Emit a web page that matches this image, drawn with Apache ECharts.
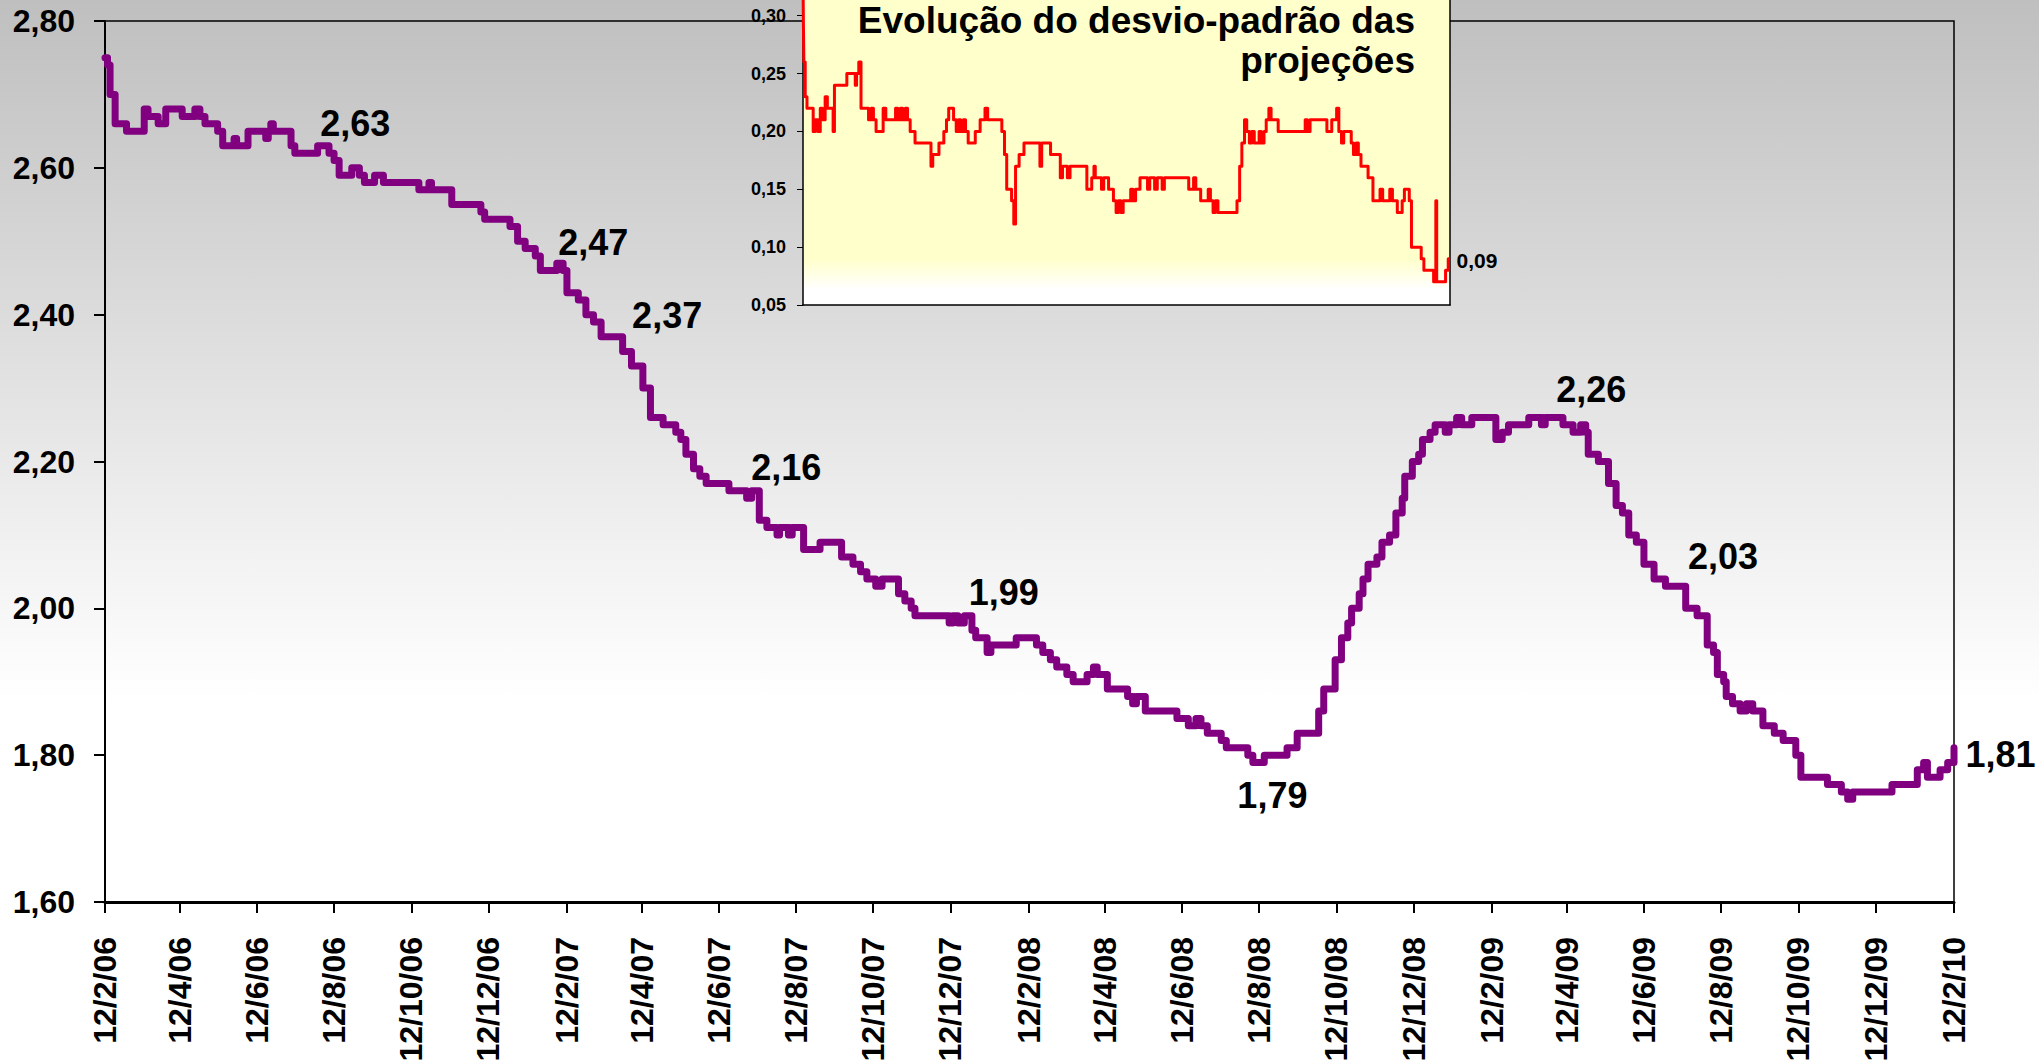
<!DOCTYPE html>
<html lang="pt-BR">
<head>
<meta charset="utf-8">
<title>Projeções</title>
<script src="https://cdn.jsdelivr.net/npm/echarts@6.0.0/dist/echarts.min.js"></script>
<style>
  html, body { margin: 0; padding: 0; }
  body { background: linear-gradient(to bottom, #bfbfbf 0px, #ffffff 700px, #ffffff 100%); }
  #chart { width: 2039px; height: 1063px; }
</style>
</head>
<body>
<div id="chart"></div>
<script>
// eixo de datas: dias contados a partir de 12/2/06
const startDate = '2006-02-12';
const endDate = '2010-02-12';
const tickDates = [
  '2006-02-12', '2006-04-12', '2006-06-12', '2006-08-12', '2006-10-12', '2006-12-12',
  '2007-02-12', '2007-04-12', '2007-06-12', '2007-08-12', '2007-10-12', '2007-12-12',
  '2008-02-12', '2008-04-12', '2008-06-12', '2008-08-12', '2008-10-12', '2008-12-12',
  '2009-02-12', '2009-04-12', '2009-06-12', '2009-08-12', '2009-10-12', '2009-12-12',
  '2010-02-12'
];
const devTicks = [0.05, 0.10, 0.15, 0.20, 0.25, 0.30];

// mediana das projeções: [dia, valor] em cada mudança de patamar
const mainPoints = [
  [0, 2.75], [2, 2.74], [4, 2.70], [8, 2.66], [17, 2.65], [31, 2.68], [34, 2.67], [42, 2.66],
  [48, 2.68], [61, 2.67], [71, 2.68], [75, 2.67], [79, 2.66], [89, 2.65], [93, 2.63], [102, 2.64],
  [104, 2.63], [113, 2.65], [127, 2.64], [129, 2.65], [131, 2.66], [133, 2.65], [147, 2.63], [150, 2.62],
  [168, 2.63], [177, 2.62], [181, 2.61], [185, 2.59], [195, 2.60], [201, 2.59], [205, 2.58], [213, 2.59],
  [220, 2.58], [248, 2.57], [256, 2.58], [258, 2.57], [274, 2.55], [297, 2.54], [300, 2.53], [320, 2.52],
  [326, 2.50], [332, 2.49], [340, 2.48], [344, 2.46], [357, 2.47], [362, 2.46], [365, 2.43], [374, 2.42],
  [380, 2.40], [386, 2.39], [392, 2.37], [409, 2.35], [416, 2.33], [425, 2.30], [431, 2.26], [441, 2.25],
  [451, 2.24], [455, 2.23], [459, 2.21], [465, 2.19], [470, 2.18], [475, 2.17], [493, 2.16], [507, 2.15],
  [511, 2.16], [517, 2.12], [523, 2.11], [531, 2.10], [533, 2.11], [540, 2.10], [543, 2.11], [552, 2.08],
  [565, 2.09], [582, 2.07], [591, 2.06], [597, 2.05], [602, 2.04], [609, 2.03], [614, 2.04], [627, 2.02],
  [632, 2.01], [637, 2.00], [640, 1.99], [667, 1.98], [670, 1.99], [674, 1.98], [679, 1.99], [685, 1.97],
  [688, 1.96], [697, 1.94], [700, 1.95], [720, 1.96], [736, 1.95], [741, 1.94], [747, 1.93], [752, 1.92],
  [760, 1.91], [765, 1.90], [776, 1.91], [781, 1.92], [784, 1.91], [792, 1.89], [808, 1.88], [812, 1.87],
  [815, 1.88], [822, 1.86], [847, 1.85], [856, 1.84], [862, 1.85], [866, 1.84], [871, 1.83], [882, 1.82],
  [886, 1.81], [903, 1.80], [907, 1.79], [916, 1.80], [934, 1.81], [942, 1.83], [959, 1.86], [963, 1.89],
  [972, 1.93], [977, 1.96], [982, 1.98], [985, 2.00], [991, 2.02], [994, 2.04], [998, 2.06], [1005, 2.07],
  [1009, 2.09], [1015, 2.10], [1020, 2.13], [1025, 2.15], [1027, 2.18], [1033, 2.20], [1038, 2.21], [1041, 2.23],
  [1047, 2.24], [1051, 2.25], [1059, 2.24], [1062, 2.25], [1068, 2.26], [1072, 2.25], [1080, 2.26], [1099, 2.23],
  [1104, 2.24], [1109, 2.25], [1125, 2.26], [1135, 2.25], [1138, 2.26], [1152, 2.25], [1160, 2.24], [1166, 2.25],
  [1170, 2.24], [1172, 2.21], [1180, 2.20], [1188, 2.17], [1194, 2.14], [1199, 2.13], [1204, 2.10], [1210, 2.09],
  [1216, 2.06], [1224, 2.04], [1233, 2.03], [1249, 2.00], [1258, 1.99], [1266, 1.95], [1271, 1.94], [1274, 1.91],
  [1279, 1.90], [1281, 1.88], [1286, 1.87], [1292, 1.86], [1297, 1.87], [1302, 1.86], [1310, 1.84], [1319, 1.83],
  [1326, 1.82], [1336, 1.80], [1340, 1.77], [1361, 1.76], [1372, 1.75], [1377, 1.74], [1381, 1.75], [1412, 1.76],
  [1432, 1.78], [1437, 1.79], [1440, 1.77], [1450, 1.78], [1456, 1.79], [1461, 1.81]
];

// desvio-padrão das projeções (gráfico menor)
const devPoints = [
  [0, 0.33], [1, 0.29], [2, 0.26], [5, 0.23], [9, 0.22], [23, 0.20], [28, 0.21], [34, 0.20],
  [39, 0.22], [44, 0.21], [50, 0.23], [55, 0.22], [68, 0.20], [71, 0.24], [99, 0.25], [118, 0.24],
  [121, 0.25], [126, 0.26], [131, 0.22], [148, 0.21], [154, 0.22], [159, 0.21], [165, 0.20], [181, 0.22],
  [187, 0.21], [209, 0.22], [214, 0.21], [220, 0.22], [225, 0.21], [231, 0.22], [236, 0.21], [242, 0.20],
  [253, 0.19], [289, 0.17], [293, 0.18], [307, 0.19], [318, 0.20], [324, 0.21], [329, 0.22], [340, 0.21],
  [346, 0.20], [351, 0.21], [356, 0.20], [362, 0.21], [367, 0.20], [373, 0.19], [389, 0.20], [400, 0.21],
  [411, 0.22], [417, 0.21], [449, 0.20], [455, 0.18], [460, 0.15], [471, 0.14], [476, 0.12], [480, 0.17],
  [488, 0.18], [499, 0.19], [535, 0.17], [539, 0.19], [559, 0.18], [581, 0.16], [586, 0.17], [597, 0.16],
  [603, 0.17], [641, 0.15], [652, 0.16], [657, 0.17], [660, 0.16], [674, 0.15], [679, 0.16], [690, 0.15],
  [701, 0.14], [707, 0.13], [712, 0.14], [718, 0.13], [723, 0.14], [740, 0.15], [745, 0.14], [751, 0.15],
  [761, 0.16], [778, 0.15], [783, 0.16], [794, 0.15], [800, 0.16], [811, 0.15], [816, 0.16], [871, 0.15],
  [882, 0.16], [887, 0.15], [898, 0.14], [915, 0.15], [920, 0.14], [926, 0.13], [931, 0.14], [937, 0.13],
  [980, 0.14], [986, 0.17], [991, 0.19], [997, 0.21], [1002, 0.20], [1008, 0.19], [1013, 0.20], [1019, 0.19],
  [1030, 0.20], [1035, 0.19], [1041, 0.20], [1046, 0.21], [1052, 0.22], [1057, 0.21], [1073, 0.20], [1134, 0.21],
  [1139, 0.20], [1145, 0.21], [1183, 0.20], [1194, 0.21], [1205, 0.22], [1210, 0.20], [1216, 0.19], [1221, 0.20],
  [1238, 0.19], [1243, 0.18], [1249, 0.19], [1254, 0.18], [1260, 0.17], [1276, 0.16], [1287, 0.14], [1303, 0.15],
  [1309, 0.14], [1325, 0.15], [1331, 0.14], [1342, 0.13], [1353, 0.14], [1358, 0.15], [1369, 0.14], [1374, 0.10],
  [1396, 0.09], [1402, 0.08], [1424, 0.07], [1429, 0.14], [1431, 0.07], [1451, 0.08], [1457, 0.09], [1461, 0.09]
];

// pontos destacados com rótulo
const labelDays = [172, 357, 409, 511, 679, 907, 1140, 1233, 1461];
const labelValues = [2.63, 2.47, 2.37, 2.16, 1.99, 1.79, 2.26, 2.03, 1.81];
const devLabelDays = [1461];
const devLabelValues = [0.09];
const insetTitle = 'Evolução do desvio-padrão das\nprojeções';

// deslocamento (px) de cada rótulo em relação ao ponto
const labelOffsets = [[-2, -22], [2, -20], [10, -21], [0, -23], [5, -23], [-15, 33], [9, -27], [23, -29], [12, 7]];

const DAY = 86400000;
const t0 = Date.parse(startDate);
const t1 = Date.parse(endDate);
const toTime = d => t0 + d * DAY;
const comma = v => v.toFixed(2).replace('.', ',');
const font = '"Liberation Sans", Arial, sans-serif';

const tickTimes = tickDates.map(s => Date.parse(s));
const mainData = mainPoints.map(p => [toTime(p[0]), p[1]]);
const devData = devPoints.map(p => [toTime(p[0]), p[1]]);

const chart = echarts.init(document.getElementById('chart'), null, {renderer: 'svg'});

const option = {
  animation: false,
  backgroundColor: 'transparent',
  textStyle: {fontFamily: font},
  grid: [
    {
      left: 105, top: 21, width: 1849, height: 881, outerBoundsMode: 'none',
      show: true, borderColor: '#000', borderWidth: 1.5, backgroundColor: 'transparent'
    },
    {
      // o quadro menor fica cortado no topo da figura
      left: 803, top: 0, width: 647, height: 305, z: 1, outerBoundsMode: 'none',
      show: true, borderWidth: 0,
      backgroundColor: {
        type: 'linear', x: 0, y: 0, x2: 0, y2: 1,
        colorStops: [
          {offset: 0, color: '#ffffcc'},
          {offset: 0.85, color: '#ffffcc'},
          {offset: 0.95, color: '#ffffff'},
          {offset: 1, color: '#ffffff'}
        ]
      }
    }
  ],
  xAxis: [
    {
      // datas como milissegundos num eixo de valores, marcas a cada dois meses
      type: 'value', gridIndex: 0, min: t0, max: t1,
      axisLine: {lineStyle: {color: '#000', width: 3}},
      axisTick: {show: true, length: 11, lineStyle: {color: '#000', width: 2}, customValues: tickTimes},
      axisLabel: {
        customValues: tickTimes, rotate: 90, margin: 35,
        color: '#000', fontSize: 32, fontWeight: 'bold', fontFamily: font,
        formatter: v => {
          const d = new Date(v);
          return d.getUTCDate() + '/' + (d.getUTCMonth() + 1) + '/' + String(d.getUTCFullYear()).slice(2);
        }
      },
      splitLine: {show: false}
    },
    {
      type: 'value', gridIndex: 1, min: t0, max: t1, z: 2,
      axisLine: {lineStyle: {color: '#000', width: 1.5}},
      axisTick: {show: false},
      axisLabel: {show: false},
      splitLine: {show: false}
    }
  ],
  yAxis: [
    {
      type: 'value', gridIndex: 0, min: 1.6, max: 2.8, interval: 0.2,
      axisLine: {show: true, lineStyle: {color: '#000', width: 2}},
      axisTick: {show: true, length: 11, lineStyle: {color: '#000', width: 2}},
      axisLabel: {
        margin: 30, color: '#000', fontSize: 32, fontWeight: 'bold', fontFamily: font,
        formatter: v => comma(v)
      },
      splitLine: {show: false}
    },
    {
      type: 'value', gridIndex: 1, min: 0.05, max: 0.3136, z: 2,
      axisLine: {show: true, lineStyle: {color: '#000', width: 1.5}},
      axisTick: {show: true, length: 6, lineStyle: {color: '#000', width: 1}, customValues: devTicks},
      axisLabel: {
        customValues: devTicks,
        margin: 17, color: '#000', fontSize: 18, fontWeight: 'bold', fontFamily: font,
        formatter: v => comma(v)
      },
      splitLine: {show: false}
    },
    {
      // borda direita do quadro menor
      type: 'value', gridIndex: 1, position: 'right', min: 0.05, max: 0.3136, z: 2,
      axisLine: {show: true, lineStyle: {color: '#000', width: 1.5}},
      axisTick: {show: false},
      axisLabel: {show: false},
      splitLine: {show: false}
    }
  ],
  graphic: [
    {
      type: 'text', x: 1415, y: 0, z: 10,
      style: {
        text: insetTitle, align: 'right', verticalAlign: 'top', lineHeight: 40,
        font: 'bold 37px ' + font, fill: '#000'
      }
    }
  ],
  series: [
    {
      name: 'Mediana',
      type: 'line',
      xAxisIndex: 0, yAxisIndex: 0,
      step: 'end',
      data: mainData,
      showSymbol: false,
      lineStyle: {color: '#800080', width: 7, cap: 'round', join: 'round'}
    },
    {
      name: 'Rótulos',
      type: 'scatter',
      xAxisIndex: 0, yAxisIndex: 0,
      symbolSize: 1, z: 5, silent: true,
      itemStyle: {color: 'rgba(0,0,0,0)', opacity: 1},
      data: labelDays.map((d, i) => ({
        value: [toTime(d), labelValues[i]],
        label: {position: labelOffsets[i]}
      })),
      label: {
        show: true, align: 'left', verticalAlign: 'middle',
        color: '#000', fontSize: 36, fontWeight: 'bold', fontFamily: font,
        formatter: p => comma(p.value[1])
      }
    },
    {
      name: 'Desvio-padrão',
      type: 'line',
      xAxisIndex: 1, yAxisIndex: 1, z: 3,
      step: 'end',
      data: devData,
      showSymbol: false,
      lineStyle: {color: '#ff0000', width: 3, join: 'round'}
    },
    {
      name: 'Rótulo desvio',
      type: 'scatter',
      xAxisIndex: 1, yAxisIndex: 1,
      symbolSize: 1, z: 5, silent: true,
      itemStyle: {color: 'rgba(0,0,0,0)', opacity: 1},
      data: devLabelDays.map((d, i) => [toTime(d), devLabelValues[i]]),
      label: {
        show: true, position: [7, 2], align: 'left', verticalAlign: 'middle',
        color: '#000', fontSize: 21, fontWeight: 'bold', fontFamily: font,
        formatter: p => comma(p.value[1])
      }
    }
  ]
};

chart.setOption(option);
</script>
</body>
</html>
